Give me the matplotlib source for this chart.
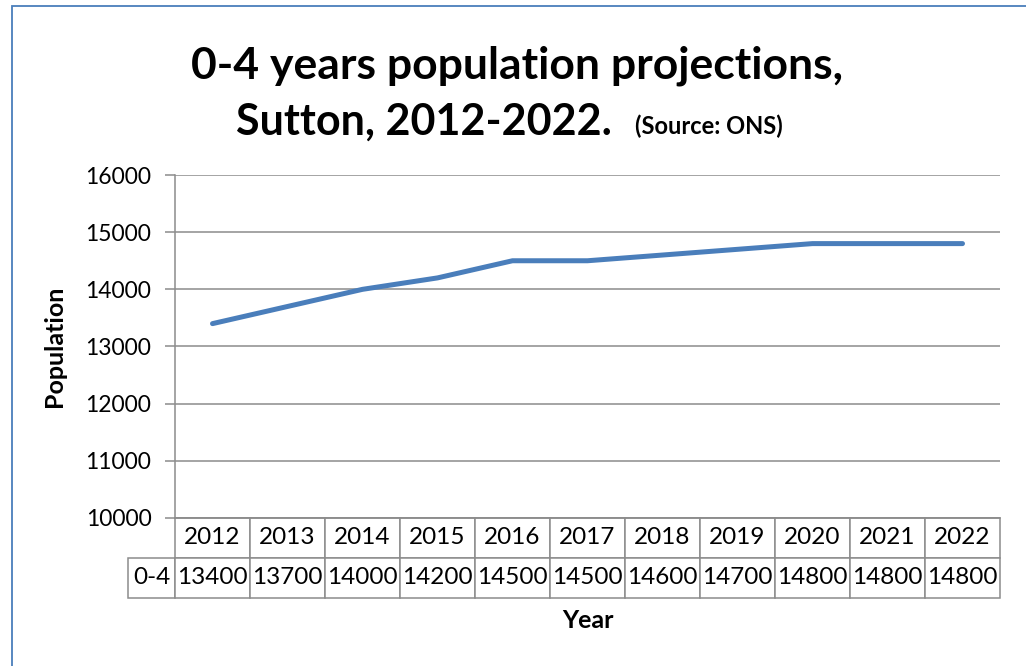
import matplotlib
matplotlib.use("Agg")
import matplotlib.pyplot as plt
from matplotlib.patches import Rectangle

plt.rcParams['font.family'] = ['Lato', 'DejaVu Sans']

years = ['2012', '2013', '2014', '2015', '2016', '2017', '2018', '2019', '2020', '2021', '2022']
population = [13400, 13700, 14000, 14200, 14500, 14500, 14600, 14700, 14800, 14800, 14800]
series_name = '0-4'

W, H = 1026, 666
fig = plt.figure(figsize=(W / 100, H / 100), dpi=100)

# outer chart border (only left/top edges visible)
fig.patches.append(Rectangle((12 / W, -0.1), 1.2, (660 / H) + 0.1, transform=fig.transFigure,
                             fill=False, edgecolor='#4A7EBB', linewidth=1.3))

ax = fig.add_axes([175 / W, (H - 518) / H, 825 / W, 343 / H])
x = list(range(len(years)))
ax.plot(x, population, color='#4A7EBB', linewidth=3.6, solid_capstyle='round', zorder=3)

ax.set_xlim(-0.5, len(years) - 0.5)
ax.set_ylim(10000, 16000)
ax.set_yticks(range(10000, 16001, 1000))
ax.grid(axis='y', color='#8C8C8C', linewidth=1.1)
ax.set_axisbelow(True)
for s in ['top', 'right']:
    ax.spines[s].set_visible(False)
ax.spines['left'].set_color('#8C8C8C')
ax.spines['bottom'].set_color('#8C8C8C')
ax.spines['left'].set_linewidth(1.1)
ax.spines['bottom'].set_linewidth(1.1)
ax.tick_params(axis='y', length=7, width=1.1, color='#8C8C8C', labelsize=16.5, pad=10)
ax.set_xticks([])

# data table under the plot
tbl = ax.table(cellText=[[series_name] + [str(v) for v in population]],
               colLabels=[''] + years,
               colWidths=[47] + [75] * len(years),
               cellLoc='center',
               bbox=[-47 / 825, -80 / 343, 872 / 825, 80 / 343])
tbl.auto_set_font_size(False)
for (r, c), cell in tbl.get_celld().items():
    cell.set_edgecolor('#8C8C8C')
    cell.set_linewidth(1.1)
    cell.get_text().set_fontsize(17.5)
    if r == 0 and c == 0:
        cell.visible_edges = ''

ax.set_ylabel('Population', fontsize=18, fontweight='bold', labelpad=14)
fig.text(588 / W, 1 - 621 / H, 'Year', fontsize=18, fontweight='bold', ha='center', va='center')

fig.text(517 / W, 1 - 66 / H, '0-4 years population projections,', fontsize=32,
         fontweight='bold', ha='center', va='center')
fig.text(612 / W, 1 - 122 / H, 'Sutton, 2012-2022.', fontsize=31,
         fontweight='bold', ha='right', va='center')
fig.text(635 / W, 1 - 126 / H, '(Source: ONS)', fontsize=17,
         fontweight='bold', ha='left', va='center')

fig.savefig('out.png', dpi=100, facecolor='white')
